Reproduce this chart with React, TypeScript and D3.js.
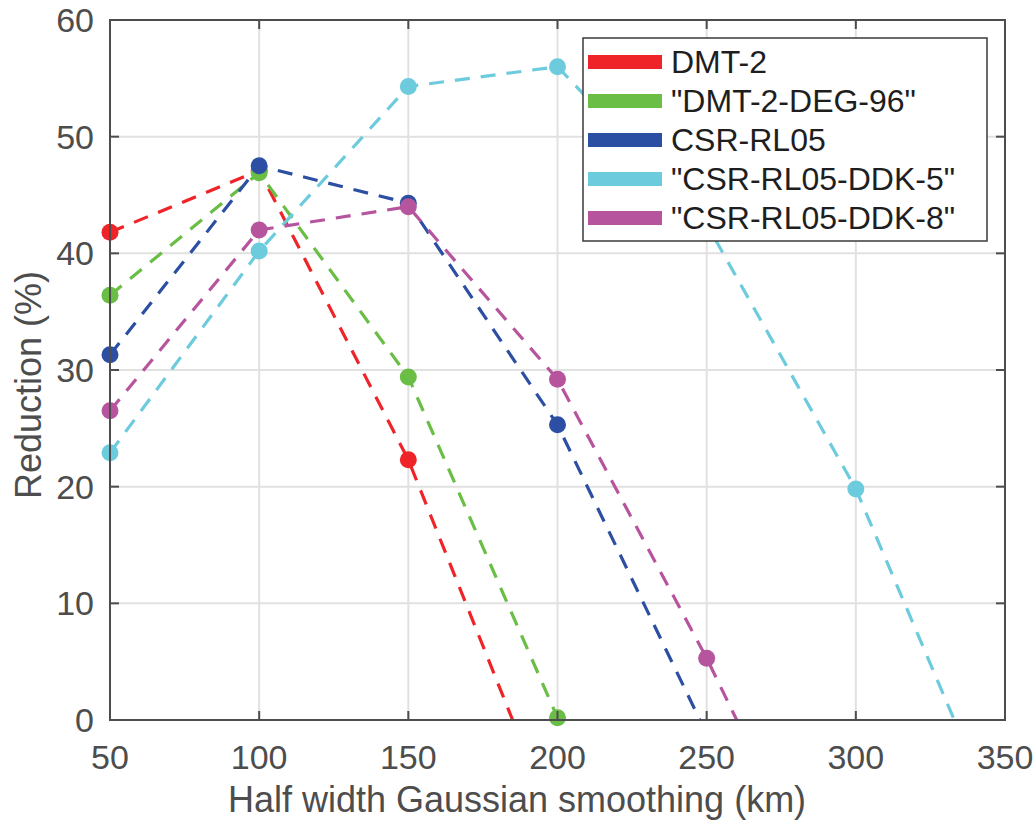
import React, { useEffect, useRef } from 'react'
import { select, scaleLinear, line } from 'd3'

const X_VALUES = [50, 100, 150, 200, 250, 300, 350]
const X_TICKS = [50, 100, 150, 200, 250, 300, 350]
const Y_TICKS = [0, 10, 20, 30, 40, 50, 60]

const SERIES_NAMES = ['DMT-2', '"DMT-2-DEG-96"', 'CSR-RL05', '"CSR-RL05-DDK-5"', '"CSR-RL05-DDK-8"']
const COLORS = ['#ee2428', '#6abd45', '#2c4fa3', '#6ccbdc', '#b6559e']

// values per series (null = no point)
const DMT2 = [41.8, 47.1, 22.3, -9.6, null, null, null]
const DMT2_DEG96 = [36.4, 46.9, 29.4, 0.2, null, null, null]
const CSR_RL05 = [31.3, 47.5, 44.3, 25.3, -1.2, null, null]
const CSR_DDK5 = [22.9, 40.2, 54.3, 56.0, 42.5, 19.8, -10.2]
const CSR_DDK8 = [26.5, 42.0, 44.0, 29.2, 5.3, -21.0, null]

const ALL = [DMT2, DMT2_DEG96, CSR_RL05, CSR_DDK5, CSR_DDK8]

const App = () => {
    const svgRef = useRef(null)

    const width = 1035
    const height = 820
    const margin = { top: 20, right: 30, bottom: 100, left: 110 }

    useEffect(() => {
        const svg = select(svgRef.current)
        svg.selectAll('*').remove()

        const x = scaleLinear().domain([50, 350]).range([margin.left, width - margin.right])
        const y = scaleLinear().domain([0, 60]).range([height - margin.bottom, margin.top])
        const x0 = margin.left, x1 = width - margin.right
        const y0 = height - margin.bottom, y1 = margin.top
        const font = 'Liberation Sans, Arial, Helvetica, sans-serif'
        const axisColor = '#4d4d4d'

        svg.append('rect').attr('x', 0).attr('y', 0).attr('width', width).attr('height', height).attr('fill', '#fff')

        svg.append('defs').append('clipPath').attr('id', 'plotclip')
            .append('rect').attr('x', x0).attr('y', y1).attr('width', x1 - x0).attr('height', y0 - y1)

        // grid
        const grid = svg.append('g')
        X_TICKS.forEach(t => {
            grid.append('line').attr('x1', x(t)).attr('x2', x(t)).attr('y1', y1).attr('y2', y0)
                .attr('stroke', '#e1e1e1').attr('stroke-width', 2)
        })
        Y_TICKS.forEach(t => {
            grid.append('line').attr('x1', x0).attr('x2', x1).attr('y1', y(t)).attr('y2', y(t))
                .attr('stroke', '#e1e1e1').attr('stroke-width', 2)
        })

        // series lines
        const plot = svg.append('g').attr('clip-path', 'url(#plotclip)')
        ALL.forEach((vals, i) => {
            const pts = X_VALUES.map((xv, j) => [xv, vals[j]]).filter(p => p[1] !== null)
            const gen = line().x(d => x(d[0])).y(d => y(d[1]))
            plot.append('path').attr('d', gen(pts)).attr('fill', 'none')
                .attr('stroke', COLORS[i]).attr('stroke-width', 3.2)
                .attr('stroke-dasharray', '15,11')
        })
        // markers (only points inside the axes)
        ALL.forEach((vals, i) => {
            X_VALUES.forEach((xv, j) => {
                const v = vals[j]
                if (v === null || v < 0 || v > 60) return
                svg.append('circle').attr('cx', x(xv)).attr('cy', y(v)).attr('r', 8.5).attr('fill', COLORS[i])
            })
        })

        // axes box and ticks
        const ax = svg.append('g')
        ax.append('rect').attr('x', x0).attr('y', y1).attr('width', x1 - x0).attr('height', y0 - y1)
            .attr('fill', 'none').attr('stroke', axisColor).attr('stroke-width', 2)
        X_TICKS.forEach(t => {
            ax.append('line').attr('x1', x(t)).attr('x2', x(t)).attr('y1', y0).attr('y2', y0 - 9).attr('stroke', axisColor).attr('stroke-width', 2)
            ax.append('line').attr('x1', x(t)).attr('x2', x(t)).attr('y1', y1).attr('y2', y1 + 9).attr('stroke', axisColor).attr('stroke-width', 2)
            ax.append('text').attr('x', x(t)).attr('y', y0 + 49).attr('text-anchor', 'middle')
                .attr('font-family', font).attr('font-size', 34).attr('fill', axisColor).text(t)
        })
        Y_TICKS.forEach(t => {
            ax.append('line').attr('x1', x0).attr('x2', x0 + 9).attr('y1', y(t)).attr('y2', y(t)).attr('stroke', axisColor).attr('stroke-width', 2)
            ax.append('line').attr('x1', x1).attr('x2', x1 - 9).attr('y1', y(t)).attr('y2', y(t)).attr('stroke', axisColor).attr('stroke-width', 2)
            ax.append('text').attr('x', x0 - 16).attr('y', y(t) + 12).attr('text-anchor', 'end')
                .attr('font-family', font).attr('font-size', 34).attr('fill', axisColor).text(t)
        })

        svg.append('text').attr('x', 517).attr('y', 812).attr('text-anchor', 'middle')
            .attr('font-family', font).attr('font-size', 36).attr('fill', axisColor)
            .text('Half width Gaussian smoothing (km)')
        svg.append('text').attr('transform', `translate(41, 385) rotate(-90)`).attr('text-anchor', 'middle')
            .attr('font-family', font).attr('font-size', 36).attr('fill', axisColor)
            .text('Reduction (%)')

        // legend
        const lg = svg.append('g')
        lg.append('rect').attr('x', 583).attr('y', 38).attr('width', 404).attr('height', 203)
            .attr('fill', '#fff').attr('stroke', '#3a3a3a').attr('stroke-width', 1.5)
        SERIES_NAMES.forEach((name, i) => {
            const cy = 62 + i * 39
            lg.append('line').attr('x1', 588).attr('x2', 662).attr('y1', cy).attr('y2', cy)
                .attr('stroke', COLORS[i]).attr('stroke-width', 14)
            lg.append('text').attr('x', 671).attr('y', cy + 11).attr('font-family', font)
                .attr('font-size', 32).attr('fill', '#1e1e1e').text(name)
        })
    }, [])

    return (
        <svg ref={svgRef} width={width} height={height} style={{ position: 'absolute', left: 0, top: 0 }} />
    )
}

export default App
